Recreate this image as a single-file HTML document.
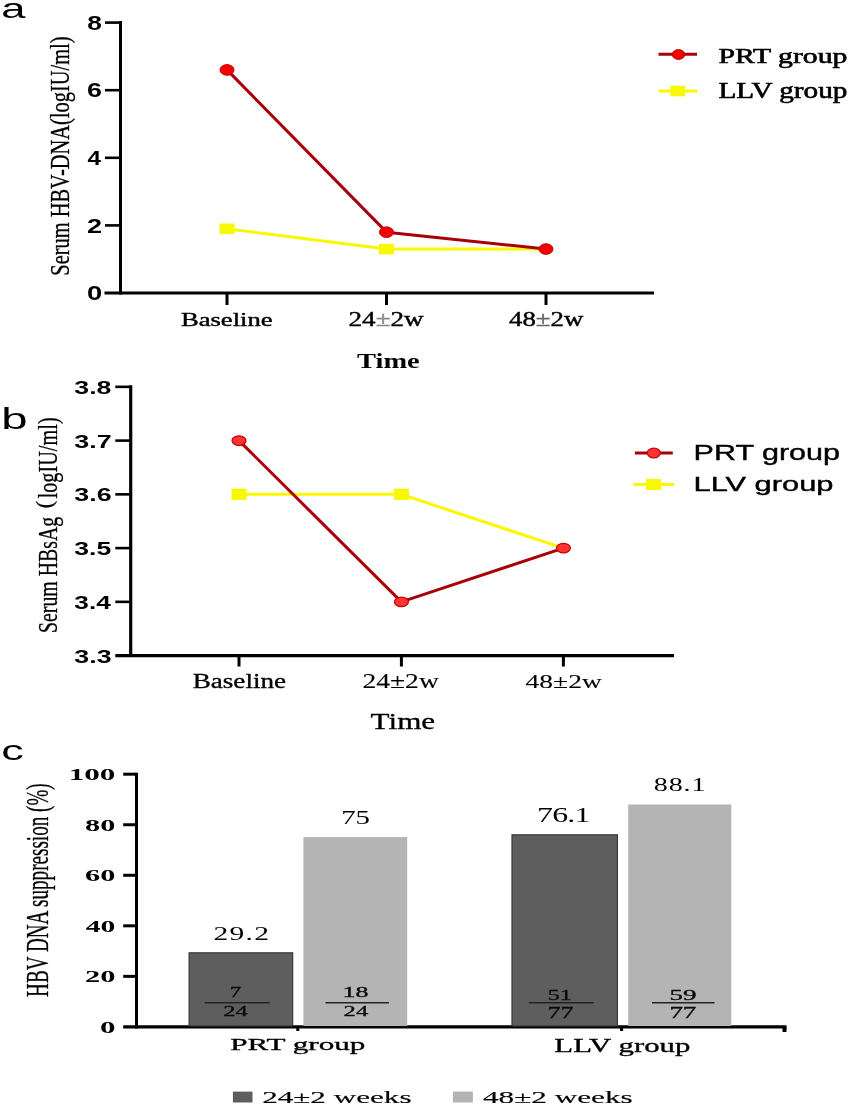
<!DOCTYPE html>
<html><head><meta charset="utf-8"><style>
html,body{margin:0;padding:0;background:#fff;}
body{width:850px;height:1109px;overflow:hidden;}
svg{display:block;filter:blur(0.4px);}

</style></head><body>
<svg width="850" height="1109" viewBox="0 0 850 1109">
<rect width="850" height="1109" fill="#fff"/>
<text x="1.16" y="17.52" font-family='"Liberation Sans", sans-serif' font-weight="400" font-size="27.64" textLength="24.19" lengthAdjust="spacingAndGlyphs" fill="#000" >a</text>
<text x="1.22" y="428.91" font-family='"Liberation Sans", sans-serif' font-weight="400" font-size="28.84" textLength="26.33" lengthAdjust="spacingAndGlyphs" fill="#000" >b</text>
<text x="1.20" y="759.72" font-family='"Liberation Sans", sans-serif' font-weight="400" font-size="28.00" textLength="22.53" lengthAdjust="spacingAndGlyphs" fill="#000" >c</text>
<line x1="120.5" y1="21.100000000000023" x2="120.5" y2="294.5" stroke="#000" stroke-width="3" stroke-linecap="butt"/>
<line x1="104.5" y1="293.0" x2="654" y2="293.0" stroke="#000" stroke-width="3" stroke-linecap="butt"/>
<line x1="105" y1="22.600000000000023" x2="120.5" y2="22.600000000000023" stroke="#000" stroke-width="2.6" stroke-linecap="butt"/>
<line x1="105" y1="90.20000000000002" x2="120.5" y2="90.20000000000002" stroke="#000" stroke-width="2.6" stroke-linecap="butt"/>
<line x1="105" y1="157.8" x2="120.5" y2="157.8" stroke="#000" stroke-width="2.6" stroke-linecap="butt"/>
<line x1="105" y1="225.4" x2="120.5" y2="225.4" stroke="#000" stroke-width="2.6" stroke-linecap="butt"/>
<text x="87.21" y="29.70" font-family='"Liberation Sans", sans-serif' font-weight="700" font-size="20.00" textLength="14.61" lengthAdjust="spacingAndGlyphs" fill="#000" >8</text>
<text x="87.06" y="97.30" font-family='"Liberation Sans", sans-serif' font-weight="700" font-size="20.00" textLength="14.91" lengthAdjust="spacingAndGlyphs" fill="#000" >6</text>
<text x="87.64" y="165.10" font-family='"Liberation Sans", sans-serif' font-weight="700" font-size="20.58" textLength="13.51" lengthAdjust="spacingAndGlyphs" fill="#000" >4</text>
<text x="87.05" y="232.70" font-family='"Liberation Sans", sans-serif' font-weight="700" font-size="20.29" textLength="15.06" lengthAdjust="spacingAndGlyphs" fill="#000" >2</text>
<text x="86.91" y="300.10" font-family='"Liberation Sans", sans-serif' font-weight="700" font-size="20.00" textLength="15.22" lengthAdjust="spacingAndGlyphs" fill="#000" >0</text>
<line x1="227" y1="293.0" x2="227" y2="305" stroke="#000" stroke-width="3" stroke-linecap="butt"/>
<line x1="386.5" y1="293.0" x2="386.5" y2="305" stroke="#000" stroke-width="3" stroke-linecap="butt"/>
<line x1="546" y1="293.0" x2="546" y2="305" stroke="#000" stroke-width="3" stroke-linecap="butt"/>
<text transform="translate(69.40,275.68) rotate(-90)" x="0" y="0" font-family='"Liberation Serif", serif' font-weight="400" font-size="27.50" textLength="239.20" lengthAdjust="spacingAndGlyphs" fill="#000" stroke="#000" stroke-width="0.3">Serum HBV-DNA(logIU/ml)</text>
<text x="180.90" y="325.70" font-family='"Liberation Serif", serif' font-weight="400" font-size="19.28" textLength="91.79" lengthAdjust="spacingAndGlyphs" fill="#000" stroke="#000" stroke-width="0.4" >Baseline</text>
<text x="348.58" y="326.00" font-family='"Liberation Serif", serif' font-weight="400" font-size="20.15" textLength="75.05" lengthAdjust="spacingAndGlyphs" fill="#000" stroke="#000" stroke-width="0.4" >24<tspan fill="#888" stroke="#888">±</tspan>2w</text>
<text x="509.06" y="326.00" font-family='"Liberation Serif", serif' font-weight="400" font-size="20.00" textLength="74.26" lengthAdjust="spacingAndGlyphs" fill="#000" stroke="#000" stroke-width="0.4" >48<tspan fill="#666" stroke="#666">±</tspan>2w</text>
<text x="357.07" y="367.60" font-family='"Liberation Serif", serif' font-weight="700" font-size="22.01" textLength="62.60" lengthAdjust="spacingAndGlyphs" fill="#000" >Time</text>
<polyline points="227,228.78000000000003 386.5,249.06 546,249.06" fill="none" stroke="#f8f800" stroke-width="3" stroke-linejoin="round"/>
<rect x="219.5" y="223.48000000000002" width="15.00" height="10.60" fill="#f8f800"/>
<rect x="379.0" y="243.76" width="15.00" height="10.60" fill="#f8f800"/>
<polyline points="227,69.92000000000004 386.5,232.16 546,249.06" fill="none" stroke="#a8000a" stroke-width="3" stroke-linejoin="round"/>
<ellipse cx="227" cy="69.92000000000004" rx="7" ry="5.3" fill="#f60000" stroke="#c00000" stroke-width="1"/>
<ellipse cx="386.5" cy="232.16" rx="7" ry="5.3" fill="#f60000" stroke="#c00000" stroke-width="1"/>
<ellipse cx="546" cy="249.06" rx="7" ry="5.3" fill="#f60000" stroke="#c00000" stroke-width="1"/>
<line x1="658.5" y1="54.3" x2="697" y2="54.3" stroke="#a8000a" stroke-width="3" stroke-linecap="butt"/>
<ellipse cx="678.5" cy="54.5" rx="6.2" ry="4.9" fill="#f60000" stroke="#c00000" stroke-width="1"/>
<line x1="658.5" y1="90.9" x2="697" y2="90.9" stroke="#f8f800" stroke-width="3" stroke-linecap="butt"/>
<rect x="670.5" y="85.7" width="14.50" height="10.60" fill="#f8f800"/>
<text x="718.41" y="62.50" font-family='"Liberation Serif", serif' font-weight="400" font-size="21.68" textLength="128.95" lengthAdjust="spacingAndGlyphs" fill="#000" stroke="#000" stroke-width="0.6" >PRT group</text>
<text x="718.42" y="98.00" font-family='"Liberation Serif", serif' font-weight="400" font-size="22.44" textLength="129.01" lengthAdjust="spacingAndGlyphs" fill="#000" stroke="#000" stroke-width="0.6" >LLV group</text>
<line x1="130.7" y1="385.35" x2="130.7" y2="657.1" stroke="#000" stroke-width="3.2" stroke-linecap="butt"/>
<line x1="115.3" y1="655.6" x2="674" y2="655.6" stroke="#000" stroke-width="3.4" stroke-linecap="butt"/>
<line x1="115.3" y1="386.85" x2="130.7" y2="386.85" stroke="#000" stroke-width="2.6" stroke-linecap="butt"/>
<line x1="115.3" y1="440.5999999999998" x2="130.7" y2="440.5999999999998" stroke="#000" stroke-width="2.6" stroke-linecap="butt"/>
<line x1="115.3" y1="494.3499999999999" x2="130.7" y2="494.3499999999999" stroke="#000" stroke-width="2.6" stroke-linecap="butt"/>
<line x1="115.3" y1="548.0999999999999" x2="130.7" y2="548.0999999999999" stroke="#000" stroke-width="2.6" stroke-linecap="butt"/>
<line x1="115.3" y1="601.85" x2="130.7" y2="601.85" stroke="#000" stroke-width="2.6" stroke-linecap="butt"/>
<text x="74.33" y="393.76" font-family='"Liberation Sans", sans-serif' font-weight="700" font-size="18.87" textLength="37.07" lengthAdjust="spacingAndGlyphs" fill="#000" >3.8</text>
<text x="74.33" y="447.51" font-family='"Liberation Sans", sans-serif' font-weight="700" font-size="18.87" textLength="37.35" lengthAdjust="spacingAndGlyphs" fill="#000" >3.7</text>
<text x="74.33" y="501.26" font-family='"Liberation Sans", sans-serif' font-weight="700" font-size="18.87" textLength="37.21" lengthAdjust="spacingAndGlyphs" fill="#000" >3.6</text>
<text x="74.34" y="555.01" font-family='"Liberation Sans", sans-serif' font-weight="700" font-size="18.87" textLength="36.93" lengthAdjust="spacingAndGlyphs" fill="#000" >3.5</text>
<text x="74.35" y="608.76" font-family='"Liberation Sans", sans-serif' font-weight="700" font-size="18.87" textLength="36.39" lengthAdjust="spacingAndGlyphs" fill="#000" >3.4</text>
<text x="74.33" y="662.51" font-family='"Liberation Sans", sans-serif' font-weight="700" font-size="18.87" textLength="37.21" lengthAdjust="spacingAndGlyphs" fill="#000" >3.3</text>
<line x1="239" y1="655.6" x2="239" y2="666.5" stroke="#000" stroke-width="3" stroke-linecap="butt"/>
<line x1="401.4" y1="655.6" x2="401.4" y2="666.5" stroke="#000" stroke-width="3" stroke-linecap="butt"/>
<line x1="563.4" y1="655.6" x2="563.4" y2="666.5" stroke="#000" stroke-width="3" stroke-linecap="butt"/>
<text transform="translate(57.00,632.94) rotate(-90)" x="0" y="0" font-family='"Liberation Serif", serif' font-weight="400" font-size="28.00" textLength="116.11" lengthAdjust="spacingAndGlyphs" fill="#000" stroke="#000" stroke-width="0.3">Serum HBsAg</text>
<text transform="translate(57.00,498.46) rotate(-90)" x="0" y="0" font-family='"Liberation Serif", serif' font-weight="400" font-size="28.00" textLength="81.11" lengthAdjust="spacingAndGlyphs" fill="#000" stroke="#000" stroke-width="0.3">logIU/ml)</text>
<text transform="translate(52.00,508.26) rotate(-90)" x="0" y="0" font-family='"Liberation Serif", serif' font-weight="400" font-size="24.00" textLength="7.44" lengthAdjust="spacingAndGlyphs" fill="#000" stroke="#000" stroke-width="0.3">(</text>
<text x="192.74" y="688.30" font-family='"Liberation Serif", serif' font-weight="400" font-size="20.22" textLength="93.31" lengthAdjust="spacingAndGlyphs" fill="#000" stroke="#000" stroke-width="0.3" >Baseline</text>
<text x="362.51" y="687.80" font-family='"Liberation Serif", serif' font-weight="400" font-size="19.92" textLength="76.27" lengthAdjust="spacingAndGlyphs" fill="#000" stroke="#000" stroke-width="0.1" >24±2w</text>
<text x="525.60" y="687.80" font-family='"Liberation Serif", serif' font-weight="400" font-size="19.77" textLength="76.28" lengthAdjust="spacingAndGlyphs" fill="#000" stroke="#000" stroke-width="0.1" >48±2w</text>
<text x="370.63" y="729.20" font-family='"Liberation Serif", serif' font-weight="400" font-size="22.95" textLength="64.51" lengthAdjust="spacingAndGlyphs" fill="#000" stroke="#000" stroke-width="0.3" >Time</text>
<polyline points="239,494.3499999999999 401.4,494.3499999999999 563.4,548.0999999999999" fill="none" stroke="#f8f800" stroke-width="3" stroke-linejoin="round"/>
<rect x="231.5" y="488.6499999999999" width="15.00" height="11.40" fill="#f8f800"/>
<rect x="393.9" y="488.6499999999999" width="15.00" height="11.40" fill="#f8f800"/>
<polyline points="239,440.5999999999998 401.4,601.85 563.4,548.0999999999999" fill="none" stroke="#a8000a" stroke-width="3" stroke-linejoin="round"/>
<ellipse cx="239" cy="440.5999999999998" rx="7" ry="4.8" fill="#ff3333" stroke="#c00000" stroke-width="1.2"/>
<ellipse cx="401.4" cy="601.85" rx="7" ry="4.8" fill="#ff3333" stroke="#c00000" stroke-width="1.2"/>
<ellipse cx="563.4" cy="548.0999999999999" rx="7" ry="4.8" fill="#ff3333" stroke="#c00000" stroke-width="1.2"/>
<line x1="634.9" y1="453" x2="672.8" y2="453" stroke="#a8000a" stroke-width="3" stroke-linecap="butt"/>
<ellipse cx="653.8" cy="453" rx="6.5" ry="4.8" fill="#ff3333" stroke="#c00000" stroke-width="1.2"/>
<line x1="633.5" y1="484.4" x2="674" y2="484.4" stroke="#f8f800" stroke-width="3" stroke-linecap="butt"/>
<rect x="646" y="479" width="15.00" height="11.00" fill="#f8f800"/>
<text x="693.56" y="460.00" font-family='"Liberation Sans", sans-serif' font-weight="400" font-size="22.32" textLength="146.45" lengthAdjust="spacingAndGlyphs" fill="#000" stroke="#000" stroke-width="0.4" >PRT group</text>
<text x="693.53" y="490.90" font-family='"Liberation Sans", sans-serif' font-weight="400" font-size="20.14" textLength="139.92" lengthAdjust="spacingAndGlyphs" fill="#000" stroke="#000" stroke-width="0.4" >LLV group</text>
<line x1="136.5" y1="772.7" x2="136.5" y2="1028.4" stroke="#000" stroke-width="3" stroke-linecap="butt"/>
<line x1="123.2" y1="1026.9" x2="786.5" y2="1026.9" stroke="#000" stroke-width="3.2" stroke-linecap="butt"/>
<line x1="784.5" y1="1026.9" x2="784.5" y2="1032" stroke="#000" stroke-width="4" stroke-linecap="butt"/>
<line x1="123.2" y1="774.2" x2="136.5" y2="774.2" stroke="#000" stroke-width="3" stroke-linecap="butt"/>
<line x1="123.2" y1="824.74" x2="136.5" y2="824.74" stroke="#000" stroke-width="3" stroke-linecap="butt"/>
<line x1="123.2" y1="875.2800000000001" x2="136.5" y2="875.2800000000001" stroke="#000" stroke-width="3" stroke-linecap="butt"/>
<line x1="123.2" y1="925.82" x2="136.5" y2="925.82" stroke="#000" stroke-width="3" stroke-linecap="butt"/>
<line x1="123.2" y1="976.3600000000001" x2="136.5" y2="976.3600000000001" stroke="#000" stroke-width="3" stroke-linecap="butt"/>
<text x="68.71" y="780.03" font-family='"Liberation Serif", serif' font-weight="700" font-size="17.19" textLength="46.74" lengthAdjust="spacingAndGlyphs" fill="#000" >100</text>
<text x="85.14" y="830.57" font-family='"Liberation Serif", serif' font-weight="700" font-size="17.19" textLength="30.27" lengthAdjust="spacingAndGlyphs" fill="#000" >80</text>
<text x="85.14" y="881.11" font-family='"Liberation Serif", serif' font-weight="700" font-size="17.19" textLength="30.27" lengthAdjust="spacingAndGlyphs" fill="#000" >60</text>
<text x="85.76" y="931.65" font-family='"Liberation Serif", serif' font-weight="700" font-size="17.19" textLength="29.63" lengthAdjust="spacingAndGlyphs" fill="#000" >40</text>
<text x="84.98" y="982.19" font-family='"Liberation Serif", serif' font-weight="700" font-size="17.19" textLength="30.43" lengthAdjust="spacingAndGlyphs" fill="#000" >20</text>
<text x="99.96" y="1032.73" font-family='"Liberation Serif", serif' font-weight="700" font-size="17.19" textLength="15.48" lengthAdjust="spacingAndGlyphs" fill="#000" >0</text>
<rect x="189.1" y="952.8" width="103.60" height="73.20" fill="#5e5e5e" stroke="#3a3a3a" stroke-width="1.2"/>
<rect x="303.4" y="837.1" width="103.80" height="188.90" fill="#b4b4b4"/>
<rect x="512" y="834.8" width="105.40" height="191.20" fill="#5e5e5e" stroke="#3a3a3a" stroke-width="1.2"/>
<rect x="628.2" y="804.5" width="103.10" height="221.50" fill="#b4b4b4"/>
<line x1="297.8" y1="1026.9" x2="297.8" y2="1031" stroke="#000" stroke-width="3" stroke-linecap="butt"/>
<line x1="621.6" y1="1026.9" x2="621.6" y2="1031" stroke="#000" stroke-width="3" stroke-linecap="butt"/>
<text transform="translate(47.80,996.92) rotate(-90)" x="0" y="0" font-family='"Liberation Serif", serif' font-weight="400" font-size="31.80" textLength="213.66" lengthAdjust="spacingAndGlyphs" fill="#000" stroke="#000" stroke-width="0.3">HBV DNA suppression (%)</text>
<text transform="translate(214.80,939.52) scale(1.58,1)" x="-0.84" y="0" font-family='"Liberation Serif", serif' font-weight="400" font-size="18.67" letter-spacing="0.809" fill="#000">29.2</text>
<text transform="translate(343.00,824.21) scale(1.5,1)" x="-1.25" y="0" font-family='"Liberation Serif", serif' font-weight="400" font-size="19.25" letter-spacing="-0.027" fill="#000">75</text>
<text transform="translate(539.10,821.50) scale(1.58,1)" x="-1.31" y="0" font-family='"Liberation Serif", serif' font-weight="400" font-size="20.15" letter-spacing="-0.492" fill="#000">76.1</text>
<text transform="translate(654.90,790.71) scale(1.45,1)" x="-0.78" y="0" font-family='"Liberation Serif", serif' font-weight="400" font-size="19.41" letter-spacing="0.588" fill="#000">88.1</text>
<text x="229.67" y="997.15" font-family='"Liberation Serif", serif' font-weight="400" font-size="14.05" textLength="11.36" lengthAdjust="spacingAndGlyphs" fill="#0a0a0a" stroke="#0a0a0a" stroke-width="0.3" >7</text>
<line x1="204.6" y1="1002.8" x2="269.6" y2="1002.8" stroke="#222" stroke-width="1.5" stroke-linecap="butt"/>
<text x="223.25" y="1016.45" font-family='"Liberation Serif", serif' font-weight="400" font-size="15.15" textLength="24.47" lengthAdjust="spacingAndGlyphs" fill="#0a0a0a" stroke="#0a0a0a" stroke-width="0.3" >24</text>
<text x="342.54" y="997.01" font-family='"Liberation Serif", serif' font-weight="400" font-size="13.63" textLength="25.94" lengthAdjust="spacingAndGlyphs" fill="#0a0a0a" stroke="#0a0a0a" stroke-width="0.3" >18</text>
<line x1="325.5" y1="1002.8" x2="389" y2="1002.8" stroke="#222" stroke-width="1.5" stroke-linecap="butt"/>
<text x="343.64" y="1016.45" font-family='"Liberation Serif", serif' font-weight="400" font-size="15.15" textLength="24.57" lengthAdjust="spacingAndGlyphs" fill="#0a0a0a" stroke="#0a0a0a" stroke-width="0.3" >24</text>
<text x="547.70" y="999.50" font-family='"Liberation Serif", serif' font-weight="400" font-size="14.78" textLength="24.20" lengthAdjust="spacingAndGlyphs" fill="#0a0a0a" stroke="#0a0a0a" stroke-width="0.3" >51</text>
<line x1="528.7" y1="1002.8" x2="593.6" y2="1002.8" stroke="#222" stroke-width="1.5" stroke-linecap="butt"/>
<text x="547.45" y="1018.45" font-family='"Liberation Serif", serif' font-weight="400" font-size="16.18" textLength="26.19" lengthAdjust="spacingAndGlyphs" fill="#0a0a0a" stroke="#0a0a0a" stroke-width="0.3" >77</text>
<text x="669.52" y="999.50" font-family='"Liberation Serif", serif' font-weight="400" font-size="14.78" textLength="27.11" lengthAdjust="spacingAndGlyphs" fill="#0a0a0a" stroke="#0a0a0a" stroke-width="0.3" >59</text>
<line x1="652" y1="1002.8" x2="714.5" y2="1002.8" stroke="#222" stroke-width="1.5" stroke-linecap="butt"/>
<text x="669.40" y="1018.45" font-family='"Liberation Serif", serif' font-weight="400" font-size="16.18" textLength="26.96" lengthAdjust="spacingAndGlyphs" fill="#0a0a0a" stroke="#0a0a0a" stroke-width="0.3" >77</text>
<text x="230.22" y="1050.20" font-family='"Liberation Serif", serif' font-weight="400" font-size="17.33" textLength="135.15" lengthAdjust="spacingAndGlyphs" fill="#000" stroke="#000" stroke-width="0.3" >PRT group</text>
<text x="554.33" y="1051.50" font-family='"Liberation Serif", serif' font-weight="400" font-size="18.40" textLength="136.02" lengthAdjust="spacingAndGlyphs" fill="#000" stroke="#000" stroke-width="0.3" >LLV group</text>
<rect x="232.9" y="1091.6" width="19.60" height="10.90" fill="#5e5e5e"/>
<rect x="452.9" y="1091.6" width="20.00" height="10.90" fill="#b4b4b4"/>
<text x="262.17" y="1102.50" font-family='"Liberation Serif", serif' font-weight="400" font-size="16.87" textLength="149.37" lengthAdjust="spacingAndGlyphs" fill="#000" stroke="#000" stroke-width="0.15" >24±2 weeks</text>
<text x="482.95" y="1102.50" font-family='"Liberation Serif", serif' font-weight="400" font-size="16.87" textLength="149.80" lengthAdjust="spacingAndGlyphs" fill="#000" stroke="#000" stroke-width="0.15" >48±2 weeks</text>
</svg>
</body></html>
